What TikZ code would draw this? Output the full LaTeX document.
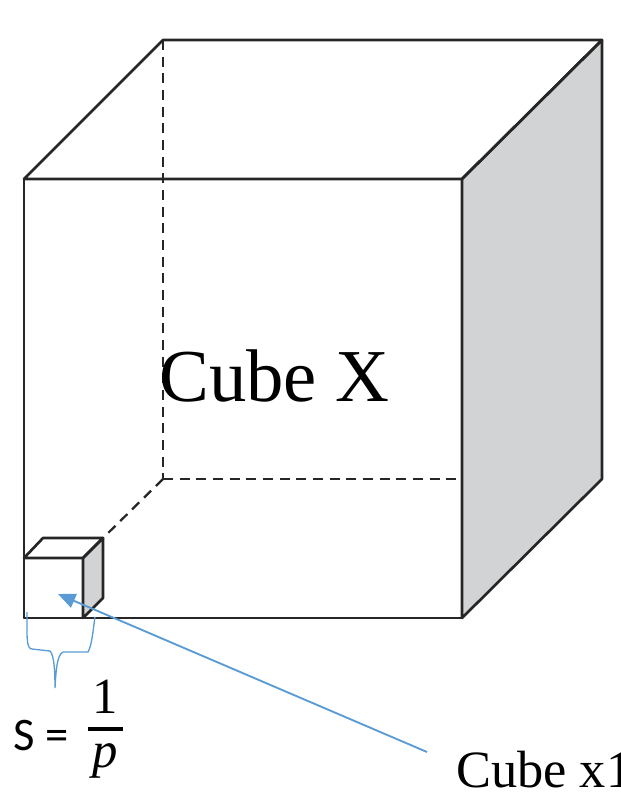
\documentclass[tikz,border=0pt]{standalone}
\usepackage{fontspec}
\setmainfont{Liberation Serif}
\newfontfamily\labelfont{Carlito}
\usetikzlibrary{arrows.meta}
\definecolor{sidegray}{RGB}{209,211,212}
\definecolor{edgeblack}{RGB}{38,38,38}
\definecolor{calloutblue}{RGB}{91,155,213}

\begin{document}
\begin{tikzpicture}[
  x=0.75pt, y=-0.75pt,
  edge/.style={draw=edgeblack, line width=2pt, line join=round},
  hidden/.style={edge, line width=1.7pt, dash pattern=on 7.5pt off 5pt},
  side/.style={edge, fill=sidegray},
  callout/.style={draw=calloutblue, line width=1.4pt},
  arr/.style={callout, -{Triangle[length=13pt, width=11pt]}},
  bigtext/.style={inner sep=0pt, anchor=base west, font=\fontsize{56}{60}\selectfont},
  smalltext/.style={inner sep=0pt, anchor=base west, font=\fontsize{39.3}{42}\selectfont}
]
  \useasboundingbox (0,0) rectangle (620,798);

  % Big cube corners
  \coordinate (fa) at (24,179);
  \coordinate (fb) at (462,179);
  \coordinate (fc) at (462,618);
  \coordinate (ba) at (163,40);
  \coordinate (bb) at (602,40);
  \coordinate (bc) at (602,479);
  \coordinate (bd) at (163,479);

  % Hidden edges
  \draw[hidden] (ba) -- (bd);
  \draw[hidden] (bd) -- (bc);
  \draw[hidden] (bd) -- (103,538);

  % Big cube faces
  \draw[side] (fb) -- (bb) -- (bc) -- (fc) -- cycle;
  \draw[edge] (fa) -- (ba) -- (bb) -- (fb) -- cycle;
  \draw[edge] (fa) rectangle (fc);

  % Small cube corners
  \coordinate (sa) at (24,558);
  \coordinate (sb) at (83,558);
  \coordinate (sc) at (83,618);
  \coordinate (ta) at (43,538);
  \coordinate (tb) at (103,538);
  \coordinate (tc) at (103,598);

  \draw[side] (sb) -- (tb) -- (tc) -- (sc) -- cycle;
  \draw[edge] (sa) -- (ta) -- (tb) -- (sb) -- cycle;
  \draw[edge] (sa) rectangle (sc);

  % Labels
  \node[bigtext] (cubeX) at (159,401) {Cube X};
  \node[smalltext] (cubex1) at (456,787) {Cube x1};
  \node[inner sep=0pt, anchor=base west, font=\labelfont\fontsize{35}{38}\selectfont] (size) at (13,750) {S =};
  \node[inner sep=0pt, anchor=west, font=\fontsize{38}{42}\selectfont] (frac) at (86,729.5)
    {$\displaystyle{\hbox to 26pt{\hss 1\hss} \above 3.2pt \hbox to 26pt{\hss\itshape p\hss}}$};

  % Callout
  \coordinate (arrowtip) at (58,594);
  \coordinate (arrowtail) at (427,752);
  \draw[arr] (arrowtail) -- (arrowtip);

  % Brace under the small cube
  \coordinate (braceleft) at (27,612);
  \coordinate (braceright) at (95,617);
  \coordinate (bracetip) at (55,688);
  \draw[callout, line width=1pt] (braceleft) .. controls (27,635) and (26,649) .. (32,649)
    -- (50,651) .. controls (54,655) and (55,670) .. (bracetip)
    .. controls (56,670) and (57,655) .. (63,652)
    -- (88,652) .. controls (92,645) and (93,630) .. (braceright);
\end{tikzpicture}
\end{document}
